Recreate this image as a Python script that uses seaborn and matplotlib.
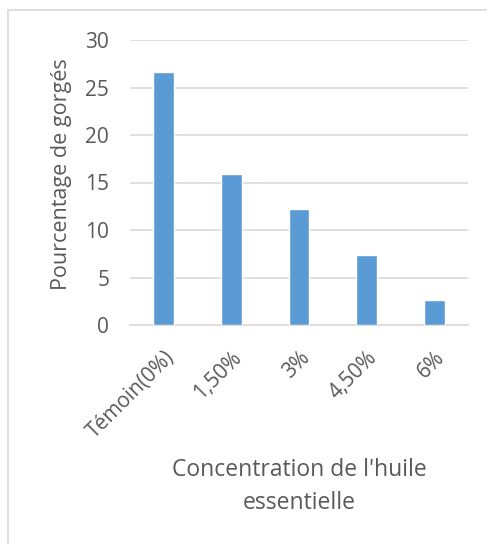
import pandas as pd
import seaborn as sns
import matplotlib.pyplot as plt
from matplotlib.patches import Rectangle

concentrations = ['Témoin(0%)', '1,50%', '3%', '4,50%', '6%']
pourcentages = [26.67, 15.9, 12.2, 7.33, 2.6]

if __name__ == '__main__':
    data = pd.DataFrame({'concentration': concentrations, 'pourcentage': pourcentages})

    sns.set_style('white')
    plt.rcParams['font.family'] = ['Open Sans', 'DejaVu Sans']
    gris = '#595959'

    fig = plt.figure(figsize=(4.87, 5.44), dpi=100)
    ax = fig.add_axes([130 / 487, 1 - 325 / 544, 338 / 487, 285 / 544])

    sns.barplot(data=data, x='concentration', y='pourcentage', ax=ax,
                color='#5b9bd5', saturation=1, width=0.31, zorder=3)

    ax.set_ylim(0, 30)
    ax.set_xlim(-0.5, 4.5)
    ax.set_yticks(range(0, 31, 5))
    ax.yaxis.grid(True, color='#d9d9d9', linewidth=1.2, zorder=0)
    ax.set_axisbelow(True)
    for side in ['top', 'right', 'left']:
        ax.spines[side].set_visible(False)
    ax.spines['bottom'].set_color('#d9d9d9')
    ax.spines['bottom'].set_linewidth(1.2)

    ax.tick_params(axis='y', length=0, pad=15, labelsize=15, labelcolor=gris)
    ax.tick_params(axis='x', length=0, pad=16, labelsize=15, labelcolor=gris)
    plt.setp(ax.get_xticklabels(), rotation=45, ha='right', rotation_mode='anchor')

    ax.set_ylabel('Pourcentage de gorgés', fontsize=15.5, color=gris)
    ax.yaxis.set_label_coords(-0.172, 0.53)
    ax.set_xlabel("Concentration de l'huile\nessentielle", fontsize=16.5, color=gris,
                  linespacing=1.5)
    ax.xaxis.set_label_coords(0.5, -0.465)

    fig.patches.append(Rectangle((8 / 487, -0.05), 1.1, 1 - 10 / 544 + 0.05,
                                 transform=fig.transFigure, fill=False,
                                 edgecolor='#d9d9d9', linewidth=1.2))

    plt.savefig('out.png', format='png', dpi=100)
